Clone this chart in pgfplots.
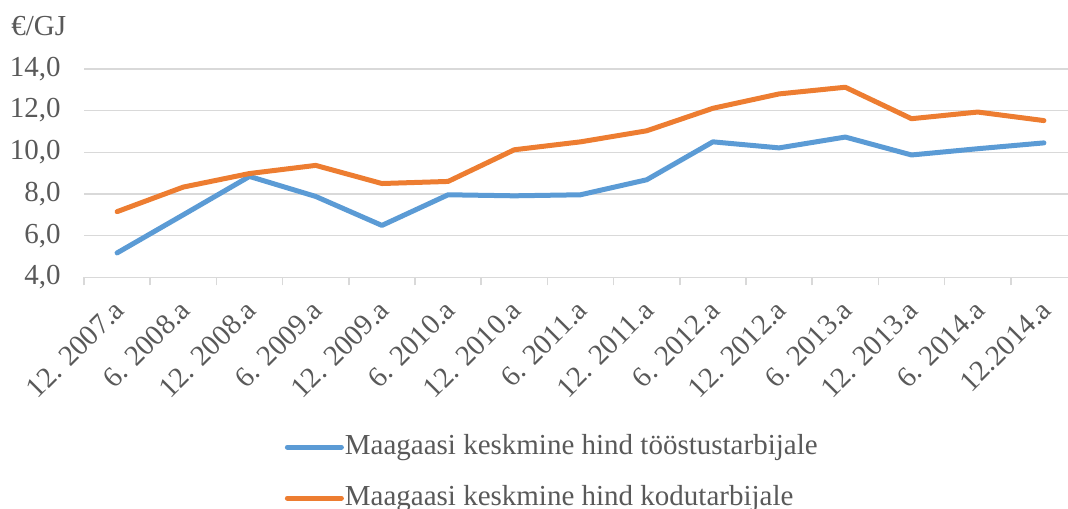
\documentclass[border=0pt]{standalone}
\usepackage{pgfplots}
\pgfplotsset{compat=1.18}
\usepackage{fontspec}
\setmainfont{Liberation Serif}
\definecolor{cblue}{HTML}{5B9BD5}
\definecolor{corange}{HTML}{ED7D31}
\definecolor{ctext}{HTML}{595959}
\definecolor{cgrid}{HTML}{D9D9D9}
\newcommand{\cf}{\fontsize{14.5pt}{17pt}\selectfont}
\begin{document}
\begin{tikzpicture}
\begin{axis}[
  at={(0,0)}, anchor=south west,
  scale only axis,
  width=496.5pt, height=104.2pt,
  xmin=-0.5, xmax=14.5,
  ymin=4, ymax=14,
  ytick={4,6,8,10,12,14},
  xtick={0,...,14},
  xticklabels={12. 2007.a, 6. 2008.a, 12. 2008.a, 6. 2009.a, 12. 2009.a, 6. 2010.a, 12. 2010.a, 6. 2011.a, 12. 2011.a, 6. 2012.a, 12. 2012.a, 6. 2013.a, 12. 2013.a, 6. 2014.a, 12.2014.a},
  minor xtick={-0.5,0.5,...,14.5},
  major tick length=0pt,
  minor tick length=4pt,
  tick align=outside,
  axis x line*=bottom,
  axis y line*=left,
  y axis line style={draw=none},
  x axis line style={draw=cgrid, line width=0.75pt, -},
  minor tick style={draw=cgrid, line width=0.75pt},
  ytick style={draw=none},
  ymajorgrids,
  major grid style={draw=cgrid, line width=0.75pt},
  tick label style={font=\cf, text=ctext},
  /pgf/number format/.cd, fixed, fixed zerofill, precision=1, use comma, assume math mode=true,
  /pgfplots/.cd,
  yticklabel style={inner sep=0pt, xshift=-11.5pt},
  xticklabel style={xshift=1pt, yshift=-14pt, rotate=45, anchor=east, inner sep=0pt},
  clip=false,
  legend style={
    at={(axis description cs:0.2019,-0.746)}, anchor=north west,
    draw=none, fill=none, font=\cf, text=ctext,
    inner sep=0pt, row sep=11.5pt,
    nodes={inner sep=0.5pt, text height=10pt, text depth=3pt},
    cells={anchor=west},
  },
  legend image code/.code={\draw[#1, line width=2.5pt, line cap=round] (0pt,0pt) -- (27pt,0pt);},
]
\addplot[cblue, line width=2.5pt, line join=round, line cap=round] coordinates {
(0,5.17) (1,7.0) (2,8.84) (3,7.88) (4,6.49) (5,7.96) (6,7.91) (7,7.96) (8,8.68) (9,10.50) (10,10.21) (11,10.73) (12,9.87) (13,10.17) (14,10.45)
};
\addlegendentry{Maagaasi keskmine hind tööstustarbijale}
\addplot[corange, line width=2.5pt, line join=round, line cap=round] coordinates {
(0,7.15) (1,8.33) (2,8.98) (3,9.37) (4,8.50) (5,8.60) (6,10.12) (7,10.50) (8,11.03) (9,12.11) (10,12.80) (11,13.12) (12,11.61) (13,11.93) (14,11.52)
};
\addlegendentry{Maagaasi keskmine hind kodutarbijale}
\node[anchor=west, font=\cf, text=ctext, inner sep=0pt] at (axis description cs:-0.0735,1.2065) {€/GJ};
\end{axis}
\pgfresetboundingbox
\useasboundingbox (-42pt,-115.35pt) rectangle (492pt,138.65pt);
\end{tikzpicture}
\end{document}
